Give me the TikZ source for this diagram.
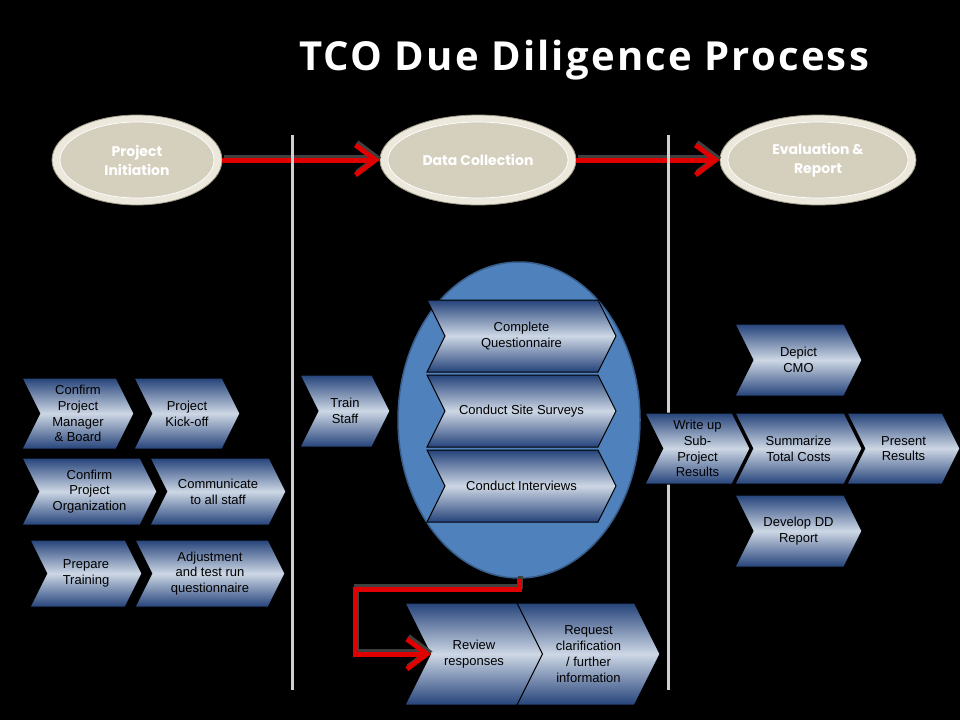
\documentclass[tikz,border=0pt]{standalone}
\usepackage{fontspec}
\setmainfont{Liberation Sans}
\newfontfamily\titlefont{Open Sans}[LetterSpace=5.5]
\newfontfamily\phasefont{Poppins}
\usetikzlibrary{arrows.meta,shapes.geometric}
\definecolor{chevdark}{HTML}{25437A}
\definecolor{chevlight}{HTML}{CDD7E5}
\definecolor{phaseouter}{HTML}{ECE8DC}
\definecolor{phaseinner}{HTML}{D5CFBE}
\definecolor{phaseedge}{HTML}{9E9886}
\definecolor{ovalblue}{HTML}{4F81BD}
\definecolor{ovaledge}{HTML}{385D8A}
\definecolor{arrowred}{HTML}{E00000}
\definecolor{divgray}{HTML}{D0D0D0}
\tikzset{
  chevshape/.style={top color=chevdark, bottom color=chevdark, middle color=chevlight, draw=black, line width=1pt},
  chevtext/.style={align=center, font=\fontsize{13}{15.8}\selectfont, text=black, inner sep=0pt},
  phaseoval/.style={ellipse, fill=phaseouter, draw=phaseedge, line width=0.8pt, minimum height=90pt, inner sep=0pt},
  phaseinnerfill/.style={fill=phaseinner, draw=white, line width=0.7pt},
  phasetext/.style={align=center, text=white, font=\phasefont\bfseries\fontsize{14}{19}\selectfont, inner sep=0pt},
  bigoval/.style={ellipse, fill=ovalblue, draw=ovaledge, line width=1.5pt, minimum width=242pt, minimum height=316pt, inner sep=0pt},
  redarrow/.style={draw=arrowred, line width=5pt, -{Straight Barb[length=20pt,width=30pt]}},
  arrowshade/.style={draw=black!75, line width=5pt, -{Straight Barb[length=20pt,width=30pt]}, transform canvas={xshift=1.5pt,yshift=2.5pt}},
  divider/.style={draw=divgray, line width=3pt},
  titletext/.style={text=white, font=\titlefont\bfseries\fontsize{40}{48}\selectfont, inner sep=0pt}
}
\newcommand\chevron[6]{%
  \path[chevshape] (#2,#3) -- ({#4-0.25*(#5-#3)},#3) -- (#4,{(#3+#5)/2}) -- ({#4-0.25*(#5-#3)},#5) -- (#2,#5) -- ({#2+0.25*(#5-#3)},{(#3+#5)/2}) -- cycle;
  \node[chevtext] (#1) at ({(#2+#4)/2},{(#3+#5)/2}) {#6};}
\begin{document}
\begin{tikzpicture}[x=1pt,y=-1pt]
\fill[black] (0,0) rectangle (960,720);
\useasboundingbox (0,0) rectangle (960,720);
% title
\node[titletext] (title) at (584,60) {TCO Due Diligence Process};
% phases
\node[phaseoval, minimum width=170pt] (pi) at (137,160) {};
\path[phaseinnerfill] (pi.center) ellipse [x radius=77, y radius=38];
\node[phasetext] (pitext) at (pi.center) {Project\\Initiation};
\node[phaseoval, minimum width=196pt] (dc) at (478,160) {};
\path[phaseinnerfill] (dc.center) ellipse [x radius=90, y radius=38];
\node[phasetext] (dctext) at (dc.center) {Data Collection};
\node[phaseoval, minimum width=196pt] (er) at (818,160) {};
\path[phaseinnerfill] (er.center) ellipse [x radius=90, y radius=38];
\node[phasetext] (ertext) at (er.center) {Evaluation \&\\Report};
% top arrows
\draw[arrowshade] (pi.east) -- (dc.west);
\draw[redarrow] (pi.east) -- (dc.west);
\draw[arrowshade] (dc.east) -- (er.west);
\draw[redarrow] (dc.east) -- (er.west);
% dividers
\coordinate (d1top) at (292,135); \coordinate (d1bot) at (292,690);
\coordinate (d2top) at (668,135); \coordinate (d2bot) at (668,690);
\draw[divider] (d1top) -- (d1bot);
\draw[divider] (d2top) -- (d2bot);
% big oval
\node[bigoval] (dcoval) at (519,420) {};
% left chevrons
\chevron{c1}{22}{378}{134}{449}{Confirm\\Project\\Manager\\\& Board}
\chevron{c2}{134}{378}{240}{449}{Project\\Kick-off}
\chevron{c3}{22}{458}{157}{525}{Confirm\\Project\\Organization}
\chevron{c4}{150}{458}{286}{525}{Communicate\\to all staff}
\chevron{c5}{30}{540}{142}{607}{Prepare\\Training}
\chevron{c6}{135}{540}{285}{607}{Adjustment\\and test run\\questionnaire}
% middle chevrons
\chevron{c7}{300}{375}{390}{447}{Train\\Staff}
\chevron{c8}{427}{300}{616}{372}{Complete\\Questionnaire}
\chevron{c9}{427}{375}{616}{447}{Conduct Site Surveys}
\chevron{c10}{427}{450}{616}{522}{Conduct Interviews}
% right chevrons
\chevron{c11}{735}{324}{862}{396}{Depict\\CMO}
\chevron{c12}{645}{413}{750}{484}{Write up\\Sub-\\Project\\Results}
\chevron{c13}{735}{413}{862}{484}{Summarize\\Total Costs}
\chevron{c14}{847}{413}{960}{484}{Present\\Results}
\chevron{c15}{735}{495}{862}{567}{Develop DD\\Report}
% bottom chevrons
\chevron{c16}{405}{603}{543}{705}{Review\\responses}
\chevron{c17}{517}{603}{660}{705}{Request\\clarification\\/ further\\information}
% elbow arrow
\coordinate (bend) at (355,589);
\coordinate (rvnotch) at (431,654);
\draw[arrowshade] (dcoval.south) |- (bend) |- (rvnotch);
\draw[redarrow] (dcoval.south) |- (bend) |- (rvnotch);
\end{tikzpicture}
\end{document}
